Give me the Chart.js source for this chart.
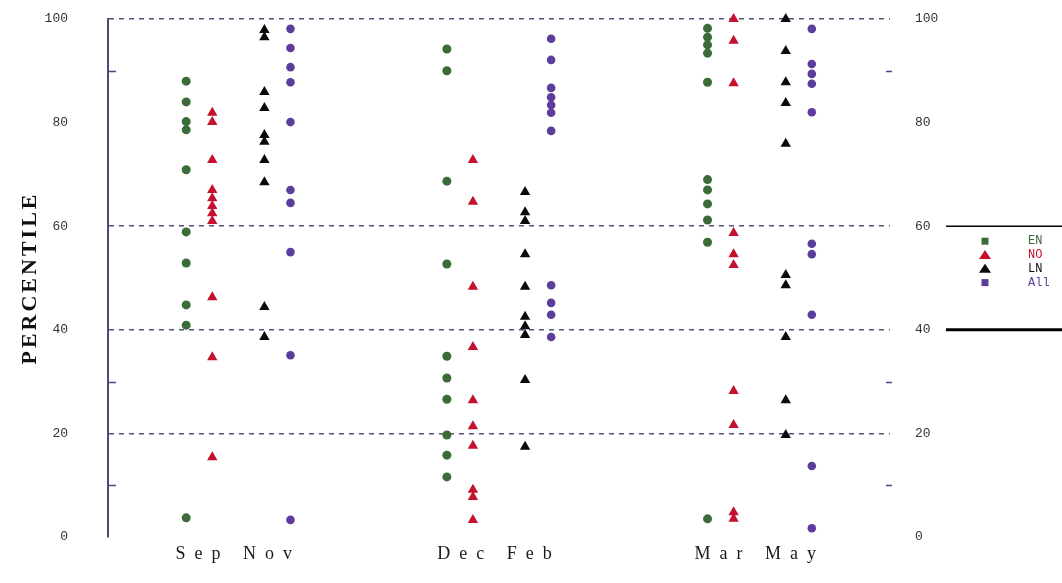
<!DOCTYPE html>
<html>
<head>
<meta charset="utf-8">
<script src="https://cdn.jsdelivr.net/npm/chart.js@4/dist/chart.umd.min.js"></script>
<style>
  html, body { margin: 0; padding: 0; background: #ffffff; }
  #wrap { width: 1062px; height: 583px; }
</style>
</head>
<body>
<div id="wrap"><canvas id="chart" width="1062" height="583"></canvas></div>
<script>
// Seasons along the x axis and the four groups plotted in each
const seasons = ['Sep Nov', 'Dec Feb', 'Mar May'];
const seriesNames = ['EN', 'NO', 'LN', 'All'];

// Percentile axis
const yTickValues = [0, 10, 20, 30, 40, 50, 60, 70, 80, 90, 100];
const yLabelValues = [0, 20, 40, 60, 80, 100];
const gridValues = [20, 40, 60, 100];
const minorTicks = [10, 30, 90];

// Percentiles per season (Sep-Nov, Dec-Feb, Mar-May)
const enValues = [
  [88.0, 84.0, 80.2, 78.6, 70.9, 58.9, 52.9, 44.8, 40.9, 3.7],
  [94.2, 90.0, 68.7, 52.7, 34.9, 30.7, 26.6, 19.7, 15.8, 11.6],
  [98.2, 96.5, 95.0, 93.4, 87.8, 69.0, 67.0, 64.3, 61.2, 56.9, 3.5]
];
const noValues = [
  [81.9, 80.1, 72.8, 67.0, 65.4, 63.9, 62.5, 61.0, 46.3, 34.7, 15.4],
  [72.8, 64.7, 48.3, 36.7, 26.4, 21.4, 17.6, 9.1, 7.7, 3.3],
  [100.0, 95.8, 87.6, 58.7, 54.6, 52.5, 28.2, 21.6, 4.8, 3.5]
];
const lnValues = [
  [97.9, 96.5, 85.9, 82.8, 77.6, 76.3, 72.8, 68.5, 44.4, 38.6],
  [66.6, 62.7, 61.0, 54.6, 48.3, 42.5, 40.7, 39.0, 30.3, 17.4],
  [100.0, 93.8, 87.8, 83.8, 75.9, 50.6, 48.6, 38.6, 26.4, 19.7]
];
const allValues = [
  [98.1, 94.4, 90.7, 87.8, 80.1, 67.0, 64.5, 55.0, 35.1, 3.3],
  [96.2, 92.1, 86.7, 84.9, 83.4, 81.9, 78.4, 48.6, 45.2, 42.9, 38.6],
  [98.1, 91.3, 89.4, 87.5, 82.0, 56.6, 54.6, 42.9, 13.7, 1.7]
];

const seriesValues = [enValues, noValues, lnValues, allValues];

// Look of each group and its side offset within a season
const seriesStyles = [
  { color: '#3b6b36', pointStyle: 'circle',   radius: 4.5, legend: 'rect' },
  { color: '#c3112e', pointStyle: 'triangle', radius: 6,   legend: 'triangle' },
  { color: '#0a0a0a', pointStyle: 'triangle', radius: 6,   legend: 'triangle' },
  { color: '#5c3d9c', pointStyle: 'circle',   radius: 4.3, legend: 'rect' }
];
const seriesOffsets = [-0.2, -0.1, 0.1, 0.2];

const datasets = seriesValues.map((groups, si) => ({
  label: seriesNames[si],
  data: groups.flatMap((vals, gi) => vals.map(v => ({ x: gi + 0.5 + seriesOffsets[si], y: v }))),
  backgroundColor: seriesStyles[si].color,
  borderColor: seriesStyles[si].color,
  borderWidth: 0,
  pointStyle: seriesStyles[si].pointStyle,
  pointRadius: seriesStyles[si].radius,
  showLine: false,
  clip: false
}));

const axisColor = '#4a4a82';

// Wider letter spacing for the season labels and the axis title
const spacedText = {
  id: 'spacedText',
  beforeDraw(chart) {
    const xs = chart.scales.x;
    if (xs && !xs._spaced) {
      const orig = xs.drawLabels;
      xs.drawLabels = function (area) {
        const c = this.ctx; c.save(); c.letterSpacing = '9px'; orig.call(this, area); c.restore();
      };
      xs._spaced = true;
    }
    const ys = chart.scales.y;
    if (ys && !ys._spaced) {
      const origT = ys.drawTitle;
      ys.drawTitle = function (area) {
        const c = this.ctx; c.save(); c.letterSpacing = '3px'; origT.call(this, area); c.restore();
      };
      ys._spaced = true;
    }
  }
};

// Short inner tick marks on both sides of the plot
const minorTickMarks = {
  id: 'minorTickMarks',
  afterDraw(chart) {
    const { ctx, chartArea } = chart;
    const y = chart.scales.y;
    ctx.save();
    ctx.strokeStyle = axisColor;
    ctx.lineWidth = 1.5;
    minorTicks.forEach(v => {
      const py = Math.round(y.getPixelForValue(v)) + 0.5;
      ctx.beginPath();
      ctx.moveTo(chartArea.left, py); ctx.lineTo(chartArea.left + 8, py);
      ctx.moveTo(chartArea.right - 4, py); ctx.lineTo(chartArea.right + 2, py);
      ctx.stroke();
    });
    ctx.restore();
  }
};

// Legend panel to the right of the percentile labels
const legendPanel = {
  id: 'legendPanel',
  afterDraw(chart) {
    const { ctx } = chart;
    const y = chart.scales.y;
    const top = y.getPixelForValue(60);
    const bottom = y.getPixelForValue(40);
    const x0 = 946, x1 = 1062;
    ctx.save();
    ctx.strokeStyle = '#000';
    ctx.lineWidth = 1.5;
    ctx.beginPath(); ctx.moveTo(x0, top); ctx.lineTo(x1, top); ctx.stroke();
    ctx.lineWidth = 3;
    ctx.beginPath(); ctx.moveTo(x0, bottom); ctx.lineTo(x1, bottom); ctx.stroke();
    ctx.font = '12px "Liberation Mono", monospace';
    ctx.textBaseline = 'middle';
    ctx.textAlign = 'left';
    chart.data.datasets.forEach((ds, i) => {
      const cy = top + 15 + i * 13.8;
      const mx = 985;
      const st = seriesStyles[i];
      ctx.fillStyle = st.color;
      if (st.legend === 'rect') {
        ctx.fillRect(mx - 3.5, cy - 3.5, 7, 7);
      } else {
        ctx.beginPath();
        ctx.moveTo(mx - 6, cy + 4);
        ctx.lineTo(mx + 6, cy + 4);
        ctx.lineTo(mx, cy - 5);
        ctx.closePath();
        ctx.fill();
      }
      ctx.fillText(ds.label, 1028, cy);
    });
    ctx.restore();
  }
};

const tickLabel = v => (yLabelValues.includes(v) ? String(v) : '');
const clear = 'rgba(0,0,0,0)';

new Chart(document.getElementById('chart'), {
  type: 'scatter',
  data: { datasets },
  plugins: [spacedText, minorTickMarks, legendPanel],
  options: {
    responsive: false,
    devicePixelRatio: 1,
    animation: false,
    layout: { padding: { top: 19, left: 0, right: 0, bottom: 0 }, autoPadding: false },
    plugins: { legend: { display: false }, tooltip: { enabled: false } },
    scales: {
      x: {
        type: 'linear',
        min: 0,
        max: 3,
        afterBuildTicks: s => { s.ticks = seasons.map((_, i) => ({ value: i + 0.5 })); },
        afterFit: s => { s.height = 46; },
        ticks: {
          callback: v => seasons[Math.round(v - 0.5)],
          font: { family: '"Liberation Serif", serif', size: 18 },
          color: '#1a1a1a',
          padding: 0,
          maxRotation: 0,
          autoSkip: false
        },
        grid: { display: false, drawTicks: true, tickLength: 6 },
        border: { display: false }
      },
      y: {
        type: 'linear',
        position: 'left',
        min: 0,
        max: 100,
        afterBuildTicks: s => { s.ticks = yTickValues.map(v => ({ value: v })); },
        afterFit: s => { s.width = 108; },
        ticks: {
          callback: tickLabel,
          font: { family: '"Liberation Mono", monospace', size: 13 },
          color: '#333',
          padding: 0,
          autoSkip: false
        },
        grid: {
          drawTicks: true,
          tickLength: 40,
          tickColor: clear,
          lineWidth: 1.5,
          color: ctx => (ctx.tick && gridValues.includes(ctx.tick.value) ? '#52527a' : clear)
        },
        border: { display: true, color: axisColor, width: 2, dash: [5, 5] },
        title: {
          display: true,
          text: 'PERCENTILE',
          font: { family: '"Liberation Serif", serif', size: 22, weight: 'bold' },
          color: '#111',
          padding: { top: 17, bottom: 0 }
        }
      },
      y2: {
        type: 'linear',
        position: 'right',
        min: 0,
        max: 100,
        afterBuildTicks: s => { s.ticks = yTickValues.map(v => ({ value: v })); },
        afterFit: s => { s.width = 172; },
        ticks: {
          callback: tickLabel,
          font: { family: '"Liberation Mono", monospace', size: 13 },
          color: '#333',
          padding: 0,
          autoSkip: false
        },
        grid: { display: false, drawTicks: true, tickLength: 25 },
        border: { display: false }
      }
    }
  }
});
</script>
</body>
</html>
